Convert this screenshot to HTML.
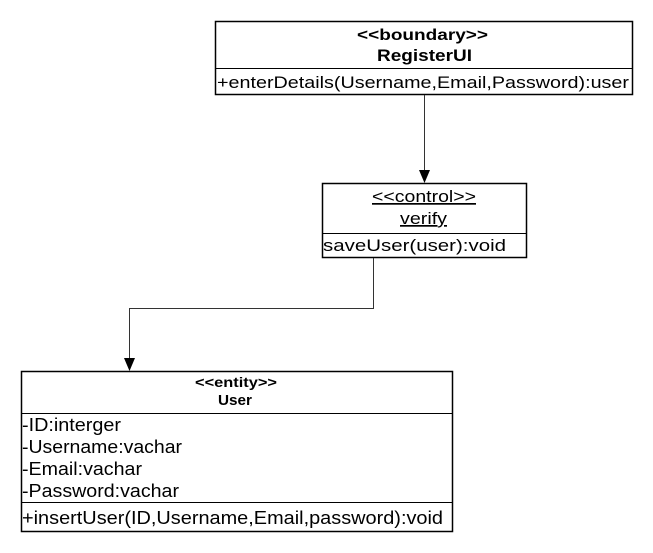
<!DOCTYPE html>
<html><head><meta charset="utf-8"><style>
html,body{margin:0;padding:0;background:#fff;}
svg{display:block;font-family:"Liberation Sans",Arial,sans-serif;}
</style></head><body>
<svg width="653" height="553" viewBox="0 0 653 553" xmlns="http://www.w3.org/2000/svg">
<g fill="#fff" stroke="#000" stroke-width="1.5">
<rect x="215.5" y="21.5" width="417" height="73"/>
<rect x="322.5" y="183.5" width="204" height="74"/>
<rect x="21.5" y="371.5" width="431" height="160"/>
</g>
<g stroke="#000" stroke-width="1">
<line x1="215" y1="68.5" x2="632" y2="68.5"/>
<line x1="322" y1="233.5" x2="526" y2="233.5"/>
<line x1="21" y1="413.5" x2="452" y2="413.5"/>
<line x1="21" y1="502.5" x2="452" y2="502.5"/>
</g>
<g stroke="#333" stroke-width="1" fill="none">
<line x1="424.5" y1="95" x2="424.5" y2="172"/>
<polyline points="373.5,258 373.5,308.5 129.5,308.5 129.5,360"/>
</g>
<polygon points="419,170 430,170 424.5,183" fill="#000"/>
<polygon points="124,358 135,358 129.5,371" fill="#000"/>
<g fill="#000">
<text x="357" y="40" font-weight="bold" font-size="16" textLength="131" lengthAdjust="spacingAndGlyphs">&lt;&lt;boundary&gt;&gt;</text>
<text x="377" y="61" font-weight="bold" font-size="17" textLength="95" lengthAdjust="spacingAndGlyphs">RegisterUI</text>
<text x="217" y="88" font-size="17" textLength="412" lengthAdjust="spacingAndGlyphs">+enterDetails(Username,Email,Password):user</text>
<text x="372" y="202" font-size="17" textLength="104" lengthAdjust="spacingAndGlyphs" text-decoration="underline">&lt;&lt;control&gt;&gt;</text>
<text x="400" y="224" font-size="17" textLength="47" lengthAdjust="spacingAndGlyphs" text-decoration="underline">verify</text>
<text x="323" y="251" font-size="17" textLength="183" lengthAdjust="spacingAndGlyphs">saveUser(user):void</text>
<text x="195" y="387" font-weight="bold" font-size="14" textLength="82" lengthAdjust="spacingAndGlyphs">&lt;&lt;entity&gt;&gt;</text>
<text x="218" y="405" font-weight="bold" font-size="15" textLength="34" lengthAdjust="spacingAndGlyphs">User</text>
<text x="22" y="431" font-size="18" textLength="99" lengthAdjust="spacingAndGlyphs">-ID:interger</text>
<text x="22" y="453" font-size="18" textLength="160" lengthAdjust="spacingAndGlyphs">-Username:vachar</text>
<text x="22" y="475" font-size="18" textLength="120" lengthAdjust="spacingAndGlyphs">-Email:vachar</text>
<text x="22" y="497" font-size="18" textLength="157" lengthAdjust="spacingAndGlyphs">-Password:vachar</text>
<text x="22" y="524" font-size="18" textLength="421" lengthAdjust="spacingAndGlyphs">+insertUser(ID,Username,Email,password):void</text>
</g>
</svg>
</body></html>
